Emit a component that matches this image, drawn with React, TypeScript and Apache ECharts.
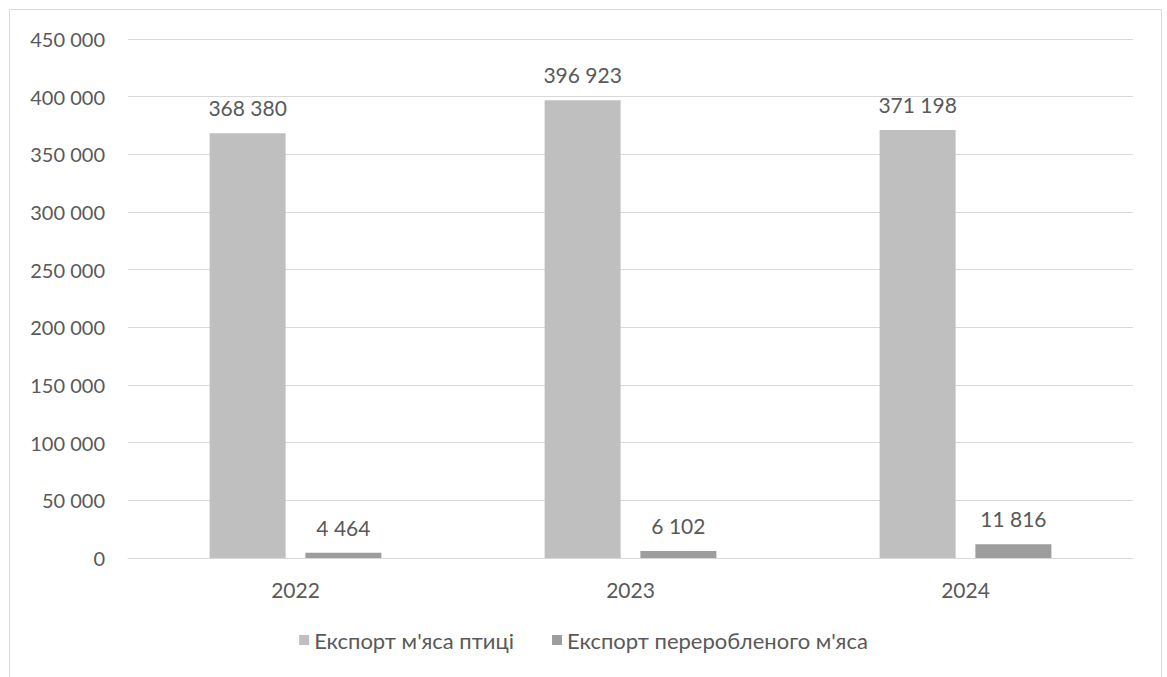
import React, { useEffect, useRef } from "react";
import * as echarts from "echarts";

const years = ["2022", "2023", "2024"];
const poultryExport = [368380, 396923, 371198];
const processedExport = [4464, 6102, 11816];
const seriesNames = ["Експорт м'яса птиці", "Експорт переробленого м'яса"];

const FONT = "Lato, 'Open Sans', sans-serif";
const TEXT = "#595959";

// Thousands separated by a space, e.g. 368 380
const fmt = (v: number) => String(v).replace(/\B(?=(\d{3})+(?!\d))/g, " ");

export default function App() {
  const ref = useRef<HTMLDivElement>(null);

  useEffect(() => {
    if (!ref.current) return;
    const chart = echarts.init(ref.current, undefined, { renderer: "svg" });
    const valueLabel = {
      show: true,
      position: "top",
      distance: 15,
      color: TEXT,
      fontSize: 21,
      fontFamily: FONT,
      formatter: (p: any) => fmt(p.value),
    };
    chart.setOption({
      animation: false,
      backgroundColor: "#ffffff",
      textStyle: { fontFamily: FONT },
      graphic: [
        {
          type: "rect",
          shape: { x: 9.5, y: 9.5, width: 1152, height: 720 },
          style: { fill: "none", stroke: "#d9d9d9", lineWidth: 1 },
          silent: true,
        },
      ],
      grid: { left: 128, right: 34, top: 39, bottom: 119 },
      legend: {
        bottom: 21,
        left: "center",
        itemWidth: 10,
        itemHeight: 10,
        itemGap: 38,
        icon: "rect",
        textStyle: { color: TEXT, fontSize: 22, fontFamily: FONT },
        data: seriesNames,
      },
      xAxis: {
        type: "category",
        data: years,
        axisLine: { lineStyle: { color: "#d9d9d9" } },
        axisTick: { show: false },
        axisLabel: { color: TEXT, fontSize: 21, margin: 21, fontFamily: FONT },
      },
      yAxis: {
        type: "value",
        min: 0,
        max: 450000,
        interval: 50000,
        axisLabel: {
          color: TEXT,
          fontSize: 20,
          margin: 23,
          fontFamily: FONT,
          formatter: (v: number) => fmt(v),
        },
        splitLine: { lineStyle: { color: "#d9d9d9", width: 1 } },
      },
      series: [
        {
          name: seriesNames[0],
          type: "bar",
          data: poultryExport,
          barWidth: 76,
          barGap: "26%",
          itemStyle: { color: "#bfbfbf" },
          label: valueLabel,
        },
        {
          name: seriesNames[1],
          type: "bar",
          data: processedExport,
          barWidth: 76,
          itemStyle: { color: "#9d9d9d" },
          label: valueLabel,
        },
      ],
    });
    return () => chart.dispose();
  }, []);

  return (
    <div
      ref={ref}
      style={{ position: "fixed", left: 0, top: 0, width: 1167, height: 677 }}
    />
  );
}
